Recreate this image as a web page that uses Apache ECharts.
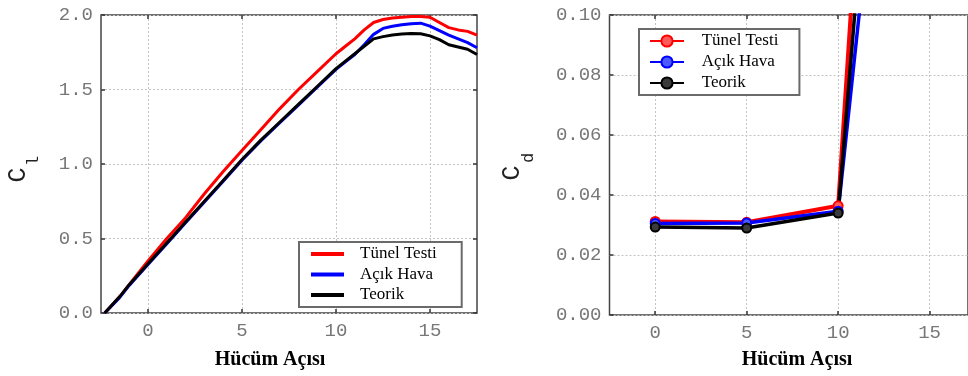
<!DOCTYPE html>
<html><head><meta charset="utf-8">
<script src="https://cdn.jsdelivr.net/npm/echarts@6/dist/echarts.min.js"></script>
<style>html,body{margin:0;padding:0;background:#fff}#c{width:968px;height:376px}</style>
</head><body><div id="c"></div>
<script>
// ---- data ----
const seriesNames = ['Tünel Testi', 'Açık Hava', 'Teorik'];
const xTicks = [0, 5, 10, 15];
const xTitle = 'Hücüm Açısı';

const liftAngles  = [-2.3, -1.5, -1, -0.5, 0, 1, 2, 3, 4, 5, 6, 7, 8, 9, 10, 10.5, 11, 11.5, 12, 12.5, 13, 13.5, 14, 14.5, 15, 15.5, 16, 16.5, 17, 17.5];
const liftTunnel  = [0.0, 0.11, 0.19, 0.27, 0.35, 0.50, 0.64, 0.80, 0.95, 1.09, 1.23, 1.37, 1.50, 1.62, 1.74, 1.79, 1.84, 1.90, 1.95, 1.97, 1.98, 1.985, 1.99, 1.99, 1.985, 1.95, 1.915, 1.90, 1.89, 1.865];
const liftOpenAir = [0.0, 0.105, 0.185, 0.255, 0.325, 0.465, 0.605, 0.745, 0.885, 1.025, 1.155, 1.275, 1.395, 1.515, 1.635, 1.685, 1.735, 1.80, 1.87, 1.91, 1.925, 1.935, 1.942, 1.945, 1.925, 1.895, 1.865, 1.84, 1.815, 1.78];
const liftTheory  = [0.0, 0.11, 0.19, 0.26, 0.33, 0.47, 0.61, 0.75, 0.89, 1.03, 1.16, 1.28, 1.40, 1.52, 1.64, 1.69, 1.74, 1.79, 1.84, 1.855, 1.866, 1.872, 1.876, 1.874, 1.86, 1.835, 1.80, 1.785, 1.77, 1.735];

const dragAngles  = [0, 5, 10, 15];
const dragTunnel  = [0.0312, 0.0309, 0.0364, 0.50];
const dragOpenAir = [0.0305, 0.0307, 0.0346, 0.32];
const dragTheory  = [0.0293, 0.0290, 0.0340, 0.40];

// ---- chart ----
const colors = ['#ff0000', '#0000ff', '#000000'];
const fills  = ['#ff5a5a', '#4a5aff', '#3a3a3a'];
const zip = (xs, ys) => xs.map((x, i) => [x, ys[i]]);
const liftData = [liftTunnel, liftOpenAir, liftTheory];
const dragData = [dragTunnel, dragOpenAir, dragTheory];
const SEP = '\u00b7cd';

const tickFont = { fontFamily: 'Liberation Mono', fontSize: 19, color: '#777' };
const split = { show: true, lineStyle: { type: [2, 2], color: '#c4c4c4', width: 1 } };
const noLine = { show: false, onZero: false };
const tick = (cv) => ({ show: true, inside: true, length: 4, lineStyle: { color: '#333', width: 1.5 }, ...(cv ? { customValues: cv } : {}) });

const chart = echarts.init(document.getElementById('c'), null, { renderer: 'canvas' });

const legendBase = {
  orient: 'vertical', itemWidth: 33, itemHeight: 14, itemGap: 3.5,
  borderColor: '#6a6a6a', borderWidth: 2, backgroundColor: '#fff', selectedMode: false,
  textStyle: { fontFamily: 'Liberation Serif', fontSize: 17, color: '#000' }
};

chart.setOption({
  animation: false,
  grid: [
    { left: 101, top: 15, width: 376, height: 298, show: true, borderColor: '#444', borderWidth: 1.5, backgroundColor: 'transparent' },
    { left: 609.5, top: 15, right: 0, height: 300, show: true, borderColor: '#444', borderWidth: 1.5, backgroundColor: 'transparent' }
  ],
  xAxis: [
    { gridIndex: 0, type: 'value', min: -2.5, max: 17.5, axisLine: noLine,
      axisTick: tick(xTicks), axisLabel: { ...tickFont, margin: 8, customValues: xTicks }, splitLine: split },
    { gridIndex: 0, type: 'value', position: 'top', min: -2.5, max: 17.5, axisLine: noLine,
      axisTick: tick(xTicks), axisLabel: { show: false, customValues: xTicks }, splitLine: { show: false } },
    { gridIndex: 1, type: 'value', min: -2.5, max: 17.1, axisLine: noLine,
      axisTick: tick(xTicks), axisLabel: { ...tickFont, margin: 8, customValues: xTicks }, splitLine: split },
    { gridIndex: 1, type: 'value', position: 'top', min: -2.5, max: 17.1, axisLine: noLine,
      axisTick: tick(xTicks), axisLabel: { show: false, customValues: xTicks }, splitLine: { show: false } }
  ],
  yAxis: [
    { gridIndex: 0, type: 'value', min: 0, max: 2, interval: 0.5, axisLine: noLine,
      axisTick: tick(), axisLabel: { ...tickFont, margin: 8, formatter: v => v.toFixed(1) }, splitLine: split },
    { gridIndex: 0, type: 'value', position: 'right', min: 0, max: 2, interval: 0.5, axisLine: noLine,
      axisTick: tick(), axisLabel: { show: false }, splitLine: { show: false } },
    { gridIndex: 1, type: 'value', min: 0, max: 0.1, interval: 0.02, axisLine: noLine,
      axisTick: tick(), axisLabel: { ...tickFont, margin: 8, formatter: v => v.toFixed(2) }, splitLine: split }
  ],
  legend: [
    { ...legendBase, left: 299, top: 242, padding: [3.5, 25, 3.5, 12], itemHeight: 4,
      data: seriesNames.map(n => ({ name: n, icon: 'rect' })),
      textStyle: { ...legendBase.textStyle, padding: [0, 0, 0, 11] } },
    { ...legendBase, left: 639, top: 29, padding: [3.5, 21, 3.5, 10], itemWidth: 34, itemGap: 4,
      data: seriesNames.map(n => n + SEP),
      formatter: n => n.split(SEP)[0],
      textStyle: { ...legendBase.textStyle, padding: [0, 0, 0, 12.7] } }
  ],
  series: [
    ...seriesNames.map((n, i) => ({
      name: n, type: 'line', xAxisIndex: 0, yAxisIndex: 0, symbol: 'none', clip: true,
      data: zip(liftAngles, liftData[i]), color: colors[i],
      itemStyle: { color: colors[i] },
      lineStyle: { color: colors[i], width: 3 }
    })),
    ...seriesNames.map((n, i) => ({
      name: n + SEP, type: 'line', xAxisIndex: 2, yAxisIndex: 2, symbol: 'circle', symbolSize: 9, clip: true,
      data: zip(dragAngles, dragData[i]), color: colors[i],
      itemStyle: { color: fills[i], borderColor: colors[i], borderWidth: 2 },
      lineStyle: { color: colors[i], width: i === 0 ? 4 : 3.5 }
    }))
  ],
  graphic: [
    { type: 'text', x: 270, y: 360, style: { text: xTitle, font: 'bold 20px "Liberation Serif"', fill: '#000', align: 'center', verticalAlign: 'middle' } },
    { type: 'text', x: 797, y: 360, style: { text: xTitle, font: 'bold 20px "Liberation Serif"', fill: '#000', align: 'center', verticalAlign: 'middle' } },
    { type: 'text', x: 18.5, y: 175, rotation: Math.PI / 2, style: { text: 'C', font: '25px "Liberation Mono"', fill: '#222', align: 'center', verticalAlign: 'middle' } },
    { type: 'text', x: 33.5, y: 161, rotation: Math.PI / 2, style: { text: 'l', font: '17px "Liberation Mono"', fill: '#222', align: 'center', verticalAlign: 'middle' } },
    { type: 'text', x: 512, y: 173, rotation: Math.PI / 2, style: { text: 'C', font: '25px "Liberation Mono"', fill: '#222', align: 'center', verticalAlign: 'middle' } },
    { type: 'text', x: 528, y: 158, rotation: Math.PI / 2, style: { text: 'd', font: '17px "Liberation Mono"', fill: '#222', align: 'center', verticalAlign: 'middle' } }
  ]
});
</script></body></html>
